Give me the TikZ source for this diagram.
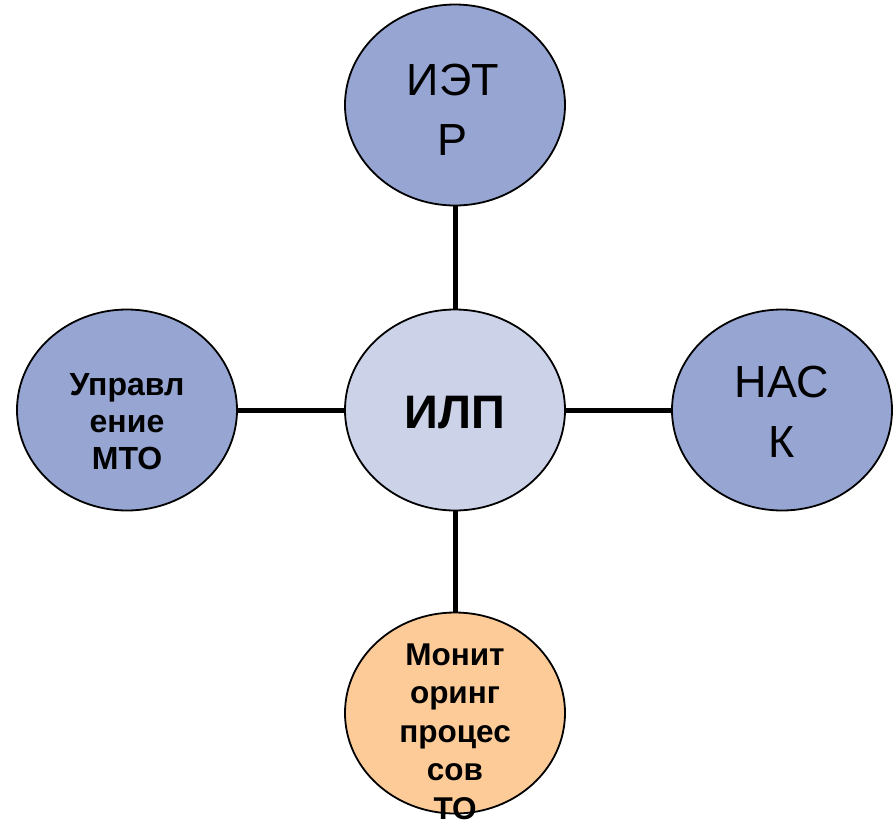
\documentclass[tikz,border=0pt]{standalone}
\usepackage{fontspec}
\setmainfont{Liberation Sans}
\definecolor{blueF}{HTML}{96A5D2}
\definecolor{centerF}{HTML}{CCD3E8}
\definecolor{peachF}{HTML}{FDCB98}
\tikzset{
  bubble/.style={ellipse, draw=black, line width=1.8pt, minimum width=220pt, minimum height=201pt, inner sep=0pt},
  link/.style={draw=black, line width=5pt},
  bigtxt/.style={anchor=base, align=center, font=\fontsize{45}{60}\selectfont},
  boldtxt/.style={anchor=base, align=center, font=\bfseries\fontsize{32}{37}\selectfont},
  montxt/.style={anchor=base, align=center, font=\bfseries\fontsize{31.5}{38.5}\selectfont},
}
\usetikzlibrary{shapes.geometric}
\begin{document}
\begin{tikzpicture}[x=1pt,y=-1pt]
\useasboundingbox (0,0) rectangle (895,820);
\fill[white] (0,0) rectangle (895,820);
\node[bubble, fill=blueF] (top) at (455,105) {};
\node[bubble, fill=centerF] (mid) at (455,410) {};
\node[bubble, fill=blueF] (left) at (127,410) {};
\node[bubble, fill=blueF] (right) at (782,410) {};
\node[bubble, fill=peachF] (bot) at (455,713) {};
\draw[link] (top) -- (mid);
\draw[link] (left) -- (mid);
\draw[link] (mid) -- (right);
\draw[link] (mid) -- (bot);
\node[bigtxt] (ttop) at (453,155) {ИЭТ\\Р};
\node[bigtxt] (tright) at (782,457) {НАС\\К};
\node[anchor=base, font=\bfseries\fontsize{47}{55}\selectfont] (tmid) at (455,428) {ИЛП};
\node[boldtxt] (tleft) at (127,469) {Управл\\ение\\МТО};
\node[montxt] (tbot) at (455,819) {Монит\\оринг\\процес\\сов\\ТО};
\end{tikzpicture}
\end{document}
